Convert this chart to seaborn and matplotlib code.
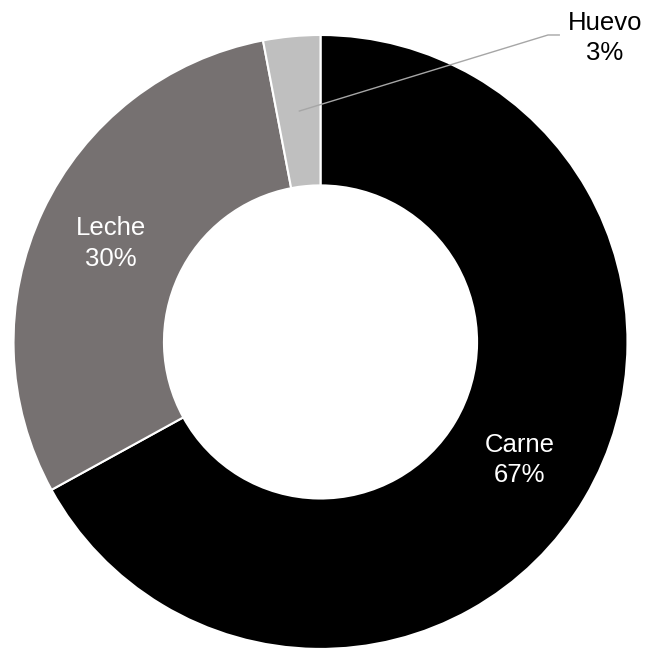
import matplotlib
matplotlib.use("Agg")
import matplotlib.pyplot as plt
import numpy as np
import seaborn as sns

# Share of animal protein sources
categories = ["Carne", "Leche", "Huevo"]
values = [67, 30, 3]
colors = ["#000000", "#767171", "#BFBFBF"]
label_colors = ["white", "white", "black"]

sns.set_theme(style="white")
plt.rcParams["font.family"] = ["Liberation Sans", "DejaVu Sans"]

fig = plt.figure(figsize=(6.49, 6.48), dpi=100)
ax = fig.add_axes([0, 0, 1, 1])

ring_width = 0.49
wedges, _ = ax.pie(
    values,
    colors=colors,
    startangle=90,
    counterclock=False,
    radius=1.0,
    wedgeprops=dict(width=ring_width, edgecolor="white", linewidth=1.5),
)

mid_r = 1.0 - ring_width / 2
for wedge, name, val, tc in zip(wedges, categories, values, label_colors):
    ang = np.deg2rad((wedge.theta1 + wedge.theta2) / 2)
    px, py = mid_r * np.cos(ang), mid_r * np.sin(ang)
    text = f"{name}\n{val}%"
    if val < 10:
        # small slice: label outside with a leader line
        elbow = (0.741, 1.0)
        end = (0.780, 1.0)
        ax.plot([px, elbow[0], end[0]], [py, elbow[1], end[1]],
                color="#A6A6A6", linewidth=1.0, solid_capstyle="butt")
        ax.text(0.927, 0.99, text, ha="center", va="center",
                fontsize=18.5, color=tc, linespacing=1.36)
    else:
        ax.text(px, py, text, ha="center", va="center",
                fontsize=18.5, color=tc, linespacing=1.36)

ax.set_xlim(-1.044, 1.070)
ax.set_ylim(-0.997, 1.114)
ax.set_aspect("equal")
ax.axis("off")

fig.savefig("out.png", dpi=100, facecolor="white")
